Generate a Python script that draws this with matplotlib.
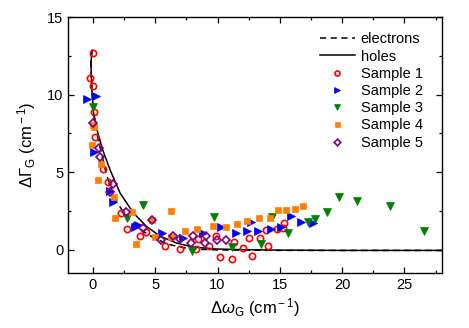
import matplotlib
matplotlib.use("Agg")
import matplotlib.pyplot as plt
from matplotlib.ticker import MultipleLocator

plt.rcParams['font.family'] = ['Liberation Sans', 'DejaVu Sans']
plt.rcParams['mathtext.fontset'] = 'custom'
plt.rcParams['mathtext.rm'] = 'Liberation Sans'
plt.rcParams['mathtext.it'] = 'Liberation Sans:italic'

# Theory curves
holes_x = [-0.08, -0.16, -0.1, 0.05, 0.4, 0.8, 1.38, 2.18, 3.25, 4.3, 5.4, 6.7, 8.0, 9.9, 12, 15, 20, 28]
holes_y = [12.86, 12.0, 10.5, 8.8, 7.5, 6.4, 5.14, 3.65, 2.36, 1.5, 0.86, 0.43, 0.17, 0.04, 0.0, -0.03, -0.05, -0.05]
elec_x = [-0.08, -0.16, -0.1, 0.05, 0.4, 0.8, 1.1, 1.8, 2.8, 4.05, 5.0, 6.2, 7.3, 8.5, 10, 15, 28]
elec_y = [12.86, 12.0, 10.5, 8.8, 7.2, 5.8, 4.8, 3.2, 2.0, 1.18, 0.7, 0.32, 0.12, 0.02, -0.02, -0.05, -0.05]

# Samples
s1_x = [0.0, -0.22, 0.0, 0.1, 0.16, 0.77, 1.17, 2.24, 2.77, 3.78, 4.24, 5.78, 6.98, 8.26, 8.45, 9.28, 9.86,
        10.18, 11.2, 11.3, 12.05, 12.5, 12.8, 13.4, 13.9, 14.05, 14.77, 15.25, 15.3]
s1_y = [12.69, 11.04, 10.57, 8.9, 7.29, 5.19, 4.39, 2.36, 1.3, 0.9, 1.14, 0.21, 0.04, 0.04, 0.69, 0.21, 0.86,
        -0.49, -0.58, 0.49, 0.11, 0.73, -0.42, 0.75, 1.29, 0.21, 1.35, 1.42, 1.73]
s2_x = [-0.48, 0.26, 0.05, 1.38, 1.65, 3.4, 3.6, 5.55, 7.25, 8.85, 10.3, 11.45, 12.35, 12.7, 13.25, 14.3,
        15.1, 15.9, 16.7, 17.65]
s2_y = [9.69, 9.9, 6.28, 3.75, 3.1, 1.45, 1.6, 1.07, 0.78, 1.07, 1.48, 1.05, 1.17, 1.76, 1.22, 1.35,
        1.43, 2.14, 1.78, 1.71]
s3_x = [0.0, 2.77, 4.0, 7.97, 9.7, 11.15, 13.5, 14.4, 15.65, 17.3, 17.86, 18.77, 19.73, 21.17, 23.86, 26.6]
s3_y = [9.22, 2.04, 2.9, -0.11, 2.08, 0.16, 0.35, 2.1, 1.07, 1.76, 1.97, 2.42, 3.37, 3.15, 2.8, 1.22]
s4_x = [0.0, 0.1, -0.08, 0.66, 0.4, 1.73, 1.78, 3.17, 3.46, 4.72, 4.98, 6.24, 6.24, 7.35, 8.38, 9.6,
        10.66, 11.6, 12.4, 13.35, 14.2, 14.85, 15.5, 16.2, 16.9]
s4_y = [8.04, 7.89, 6.75, 5.53, 4.46, 3.39, 2.04, 2.42, 0.37, 1.89, 0.82, 2.46, 0.84, 1.23, 1.31, 1.54,
        1.46, 1.67, 1.82, 2.04, 2.04, 2.53, 2.57, 2.62, 2.83]
s5_x = [0.0, 0.45, 0.53, 1.65, 1.38, 2.66, 4.77, 4.0, 5.46, 6.42, 6.98, 8.02, 7.9, 9.08, 8.98, 9.92, 10.66]
s5_y = [8.19, 6.54, 5.98, 4.22, 3.71, 2.42, 1.88, 1.4, 0.6, 0.88, 0.69, 0.9, 0.41, 0.9, 0.43, 0.6, 0.6]

fig = plt.figure(figsize=(4.69, 3.28), dpi=100)
ax = fig.add_axes([0.145, 0.168, 0.797, 0.780])

ax.plot(elec_x, elec_y, color='black', lw=1.1, ls=(0, (4, 3)), label='electrons')
ax.plot(holes_x, holes_y, color='black', lw=1.1, ls='-', label='holes')

ms = 4.5
mew = 1.2
ax.plot(s1_x, s1_y, ls='none', marker='o', ms=ms, mfc='none', mec='#FF0000', mew=mew, label='Sample 1')
ax.plot(s2_x, s2_y, ls='none', marker='>', ms=ms + 1, mfc='#0000FF', mec='#0000FF', mew=0.5, label='Sample 2')
ax.plot(s3_x, s3_y, ls='none', marker='v', ms=ms + 1, mfc='#008000', mec='#008000', mew=0.5, label='Sample 3')
ax.plot(s4_x, s4_y, ls='none', marker='s', ms=ms, mfc='#FF8000', mec='#FF8000', mew=0.5, label='Sample 4')
ax.plot(s5_x, s5_y, ls='none', marker='D', ms=ms - 0.3, mfc='none', mec='#800080', mew=mew, label='Sample 5')

ax.set_xlim(-2, 28)
ax.set_ylim(-1.5, 15)
ax.xaxis.set_major_locator(MultipleLocator(5))
ax.xaxis.set_minor_locator(MultipleLocator(2.5))
ax.yaxis.set_major_locator(MultipleLocator(5))
ax.yaxis.set_minor_locator(MultipleLocator(2.5))
ax.tick_params(which='both', direction='in', top=True, right=True, labelsize=10.5)
ax.tick_params(which='major', length=4, width=0.9)
ax.tick_params(which='minor', length=2.5, width=0.9)
for sp in ax.spines.values():
    sp.set_linewidth(1.0)

ax.set_xlabel(r'$\Delta\omega_{\rm G}$ (cm$^{\rm -1}$)', fontsize=12, labelpad=3)
ax.set_ylabel(r'$\Delta\Gamma_{\rm G}$ (cm$^{\rm -1}$)', fontsize=12, labelpad=6)

ax.legend(loc='upper right', bbox_to_anchor=(0.976, 0.98), frameon=False, fontsize=10.5,
          handlelength=2.4, handletextpad=0.4, labelspacing=0.22, markerscale=0.8, borderaxespad=0.3)

fig.savefig('out.png', dpi=100)
